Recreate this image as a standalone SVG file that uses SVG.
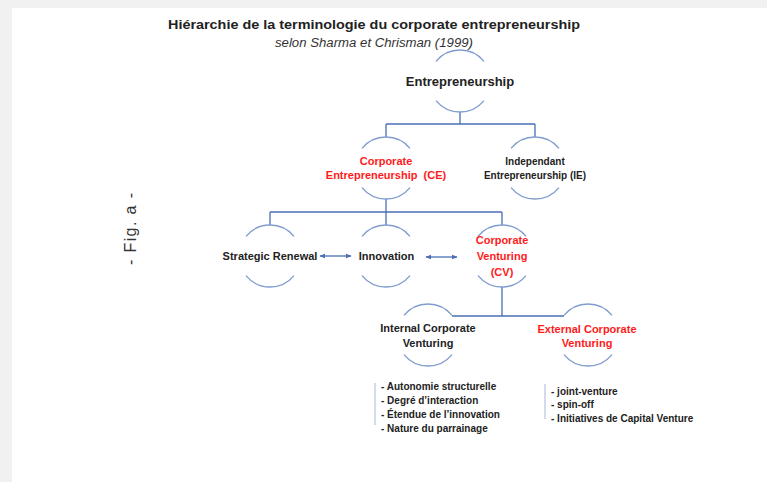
<svg xmlns="http://www.w3.org/2000/svg" width="767" height="482" viewBox="0 0 767 482">
<defs>
<style>
.arc{fill:none;stroke:#7f9ccf;stroke-width:1.3}
.ln{fill:none;stroke:#4a6fb5;stroke-width:1.3}
.bar{fill:none;stroke:#a9b9d9;stroke-width:1}
.t{font-family:"Liberation Sans",Arial,sans-serif;font-weight:bold;fill:#222;text-anchor:middle}
.r{fill:#ff1a1a}
.li{font-family:"Liberation Sans",Arial,sans-serif;font-weight:bold;fill:#222;font-size:10px}
</style>
<marker id="ah" viewBox="0 0 10 10" refX="9" refY="5" markerWidth="6" markerHeight="6" orient="auto-start-reverse" markerUnits="userSpaceOnUse">
<path d="M0 1 L10 5 L0 9 Z" fill="#4a6fb5"/>
</marker>
</defs>
<rect x="0" y="0" width="767" height="482" fill="#f1f1f1"/>
<rect x="12" y="8" width="755" height="474" fill="#ffffff"/>
<text x="374" y="29" class="t" font-size="13.5" textLength="412" lengthAdjust="spacingAndGlyphs">Hiérarchie de la terminologie du corporate entrepreneurship</text>
<text x="374" y="47" font-family="Liberation Sans,Arial,sans-serif" font-style="italic" font-size="12.5" fill="#333" text-anchor="middle" textLength="198" lengthAdjust="spacingAndGlyphs">selon Sharma et Chrisman (1999)</text>
<text transform="translate(136 229) rotate(-90)" x="0" y="0" font-family="Liberation Sans,Arial,sans-serif" font-size="16" fill="#333" text-anchor="middle" textLength="72" lengthAdjust="spacing">- Fig. a -</text>
<g id="connectors">
<path class="ln" d="M460 112V124M386 124H535M386 124V137M535 124V137"/>
<path class="ln" d="M270 212H502M270 212V225M386 212V225M502 212V225"/>
<path class="ln" d="M386 199V212" stroke-width="2"/>
<path class="ln" d="M502 287V316M452 316H564"/>
<path class="ln" d="M320 256H351" marker-start="url(#ah)" marker-end="url(#ah)"/>
<path class="ln" d="M426 257H457" marker-start="url(#ah)" marker-end="url(#ah)"/>
</g>
<g id="n-entrepreneurship">
<path class="arc" d="M436 61.4A31 31 0 0 1 484 61.4M436 100.6A31 31 0 0 0 484 100.6"/>
<text x="460" y="86" class="t" font-size="13">Entrepreneurship</text>
</g>
<g id="n-ce">
<path class="arc" d="M362 148.4A31 31 0 0 1 410 148.4M362 187.6A31 31 0 0 0 410 187.6"/>
<text x="386" y="165" class="t r" font-size="11">Corporate</text>
<text x="386" y="179" class="t r" font-size="11" xml:space="preserve" style="white-space:pre">Entrepreneurship  (CE)</text>
</g>
<g id="n-ie">
<path class="arc" d="M511 148.4A31 31 0 0 1 559 148.4M511 187.6A31 31 0 0 0 559 187.6"/>
<text x="535" y="164.5" class="t" font-size="10">Independant</text>
<text x="535" y="178.5" class="t" font-size="10">Entrepreneurship (IE)</text>
</g>
<g id="n-sr">
<path class="arc" d="M246 236.4A31 31 0 0 1 294 236.4M246 275.6A31 31 0 0 0 294 275.6"/>
<text x="270" y="260" class="t" font-size="11">Strategic Renewal</text>
</g>
<g id="n-innovation">
<path class="arc" d="M362 236.4A31 31 0 0 1 410 236.4M362 275.6A31 31 0 0 0 410 275.6"/>
<text x="386.5" y="260" class="t" font-size="11">Innovation</text>
</g>
<g id="n-cv">
<path class="arc" d="M478 236.4A31 31 0 0 1 526 236.4M478 275.6A31 31 0 0 0 526 275.6"/>
<text x="502" y="244" class="t r" font-size="11">Corporate</text>
<text x="502" y="260" class="t r" font-size="11">Venturing</text>
<text x="502" y="276" class="t r" font-size="11">(CV)</text>
</g>
<g id="n-icv">
<path class="arc" d="M404 315.4A31 31 0 0 1 452 315.4M404 354.6A31 31 0 0 0 452 354.6"/>
<text x="428" y="332" class="t" font-size="11">Internal Corporate</text>
<text x="428" y="347" class="t" font-size="11">Venturing</text>
</g>
<g id="n-ecv">
<path class="arc" d="M564 315.4A31 31 0 0 1 612 315.4M564 354.6A31 31 0 0 0 612 354.6"/>
<text x="587" y="333" class="t r" font-size="11">External Corporate</text>
<text x="587" y="347" class="t r" font-size="11">Venturing</text>
</g>
<g id="list-internal">
<path class="bar" d="M375 383V425"/>
<text x="381" y="390" class="li">- Autonomie structurelle</text>
<text x="381" y="404" class="li">- Degré d’interaction</text>
<text x="381" y="418" class="li">- Étendue de l’innovation</text>
<text x="381" y="432" class="li">- Nature du parrainage</text>
</g>
<g id="list-external">
<path class="bar" d="M545 384V419"/>
<text x="551" y="395" class="li">- joint-venture</text>
<text x="551" y="408" class="li">- spin-off</text>
<text x="551" y="422" class="li">- Initiatives de Capital Venture</text>
</g>
</svg>
